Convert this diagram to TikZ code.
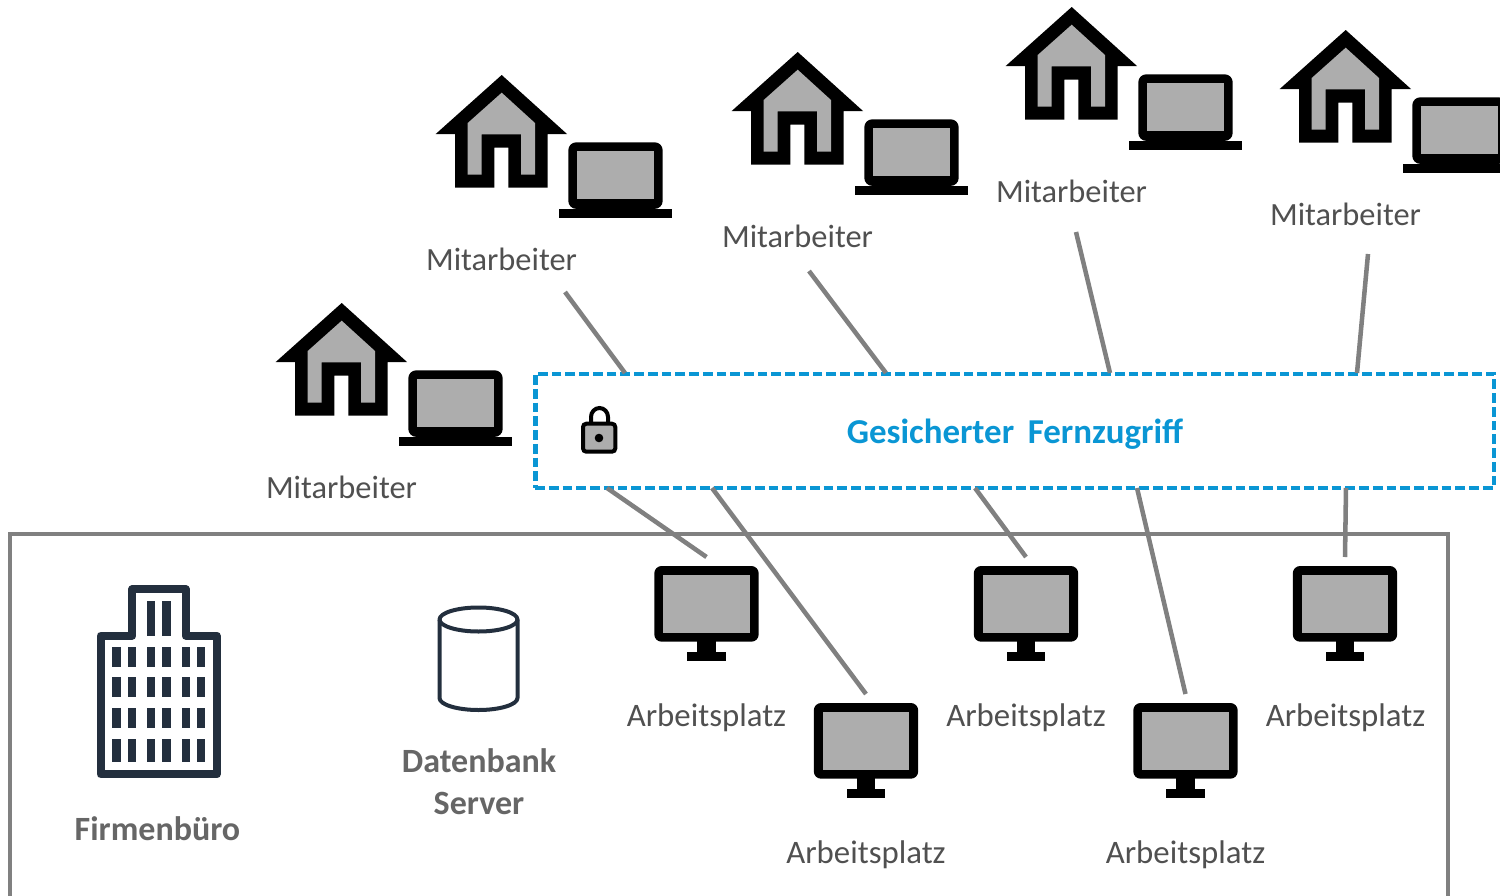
\documentclass[tikz,border=0pt]{standalone}
\usepackage{fontspec}
\setmainfont{Carlito}
\definecolor{fillgray}{HTML}{ADADAD}
\definecolor{linegray}{HTML}{808080}
\definecolor{secblue}{HTML}{0A96D4}
\definecolor{textgray}{HTML}{505050}
\definecolor{boldgray}{HTML}{666666}
\definecolor{navy}{HTML}{232F3E}
\tikzset{
  link/.style={draw=linegray,line width=3.4pt},
  lbl/.style={font=\fontsize{24.3}{28}\selectfont,text=textgray,inner sep=0pt,anchor=center},
  aplbl/.style={font=\fontsize{24.6}{28}\selectfont,text=textgray,inner sep=0pt,anchor=center},
  blbl/.style={font=\fontsize{25.5}{31.5}\selectfont\bfseries,text=boldgray,inner sep=0pt,anchor=center,align=center},
  house/.pic={
    \fill[black] (0,0) -- (65.3,59) -- (46,59) -- (46,112.7) -- (6.6,112.7) -- (6.6,72.7) -- (-7.4,72.7) -- (-7.4,112.7) -- (-46.7,112.7) -- (-46.7,59) -- (-66,59) -- cycle;
    \fill[fillgray] (0,17.7) -- (33.3,48) -- (33.3,99.7) -- (19.3,99.7) -- (19.3,59.3) -- (-20,59.3) -- (-20,99.7) -- (-34,99.7) -- (-34,48) -- cycle;
  },
  laptop/.pic={
    \fill[black,rounded corners=6pt] (-47.2,-33.2) rectangle (47.2,33.4);
    \fill[fillgray] (-38.5,-24.2) rectangle (38.5,23.8);
    \fill[black] (-56.8,33.2) rectangle (56.8,42.2);
  },
  monitor/.pic={
    \coordinate (-top) at (0,-9);
    \fill[black,rounded corners=5.5pt] (-52.2,0) rectangle (52.2,75.7);
    \fill[fillgray] (-43.2,9) rectangle (43.2,66.7);
    \fill[black] (-9.2,75) rectangle (9.2,86);
    \fill[black] (-19.2,85.7) rectangle (19.2,95);
  }
}
\begin{document}
\begin{tikzpicture}[x=0.75pt,y=-0.75pt]
\useasboundingbox (0,0) rectangle (1500,896);
% office frame
\draw[draw=linegray,line width=3.4pt] (10,896) -- (10,534) -- (1448,534) -- (1448,896);
% secured area
\node[draw=secblue,line width=3.5pt,dash pattern=on 7.3pt off 3pt,minimum width=719pt,minimum height=85.5pt,inner sep=0pt] (box) at (1014.5,431) {};
\node[font=\fontsize{26.2}{28}\selectfont\bfseries,text=secblue,inner sep=0pt] (boxlabel) at (1015,434.5) {Gesicherter\, Fernzugriff};
% lock
\draw[black,line width=3pt] (591,424) -- (591,417) arc[start angle=180,end angle=360,x radius=8.5,y radius=9] -- (608,424);
\draw[black,fill=fillgray,line width=3pt,rounded corners=2.5pt] (583,423.7) rectangle (615.3,451.7);
\fill[black] (599,438) circle[radius=4.3];
% homes
\foreach \n/\dx/\dy in {0/0/0,1/160/-228,2/456/-251,3/730/-296,4/1004/-273}{
  \pic at ({341.7+\dx},{303+\dy}) {house};
  \pic at ({455.5+\dx},{403.5+\dy}) {laptop};
}
\node[lbl] (mit0) at (341.5,487) {Mitarbeiter};
\node[lbl] (mit1) at (501.5,259) {Mitarbeiter};
\node[lbl] (mit2) at (797.5,236) {Mitarbeiter};
\node[lbl] (mit3) at (1071.5,191) {Mitarbeiter};
\node[lbl] (mit4) at (1345.5,214) {Mitarbeiter};
% workstations
\pic (m1) at (706.5,566) {monitor};
\pic (m2) at (866,703) {monitor};
\pic (m3) at (1026,566) {monitor};
\pic (m4) at (1185.5,703) {monitor};
\pic (m5) at (1345,566) {monitor};
\node[aplbl] (ap1) at (706.5,718) {Arbeitsplatz};
\node[aplbl] (ap2) at (866,855) {Arbeitsplatz};
\node[aplbl] (ap3) at (1026,718) {Arbeitsplatz};
\node[aplbl] (ap4) at (1185.5,855) {Arbeitsplatz};
\node[aplbl] (ap5) at (1345.5,718) {Arbeitsplatz};
% building
\draw[navy,line width=6pt,line join=round] (100.7,635.7) -- (132.3,635.7) -- (132.3,589.3) -- (185.7,589.3) -- (185.7,635.7) -- (216.7,635.7) -- (216.7,774.3) -- (100.7,774.3) -- cycle;
\foreach \x in {147,162.3}{\fill[navy] (\x,600.7) rectangle ++(8.3,35);}
\foreach \x in {112.3,127.7,147,162.3,181.7,197}{
  \fill[navy] (\x,646.7) rectangle ++(8.3,20);
  \fill[navy] (\x,677.3) rectangle ++(8.3,20);
  \fill[navy] (\x,708.3) rectangle ++(8.3,20);
  \fill[navy] (\x,739) rectangle ++(8.3,23.3);
}
\node[blbl] (office) at (157.5,829) {Firmenbüro};
% database
\draw[navy,line width=3pt,line join=round] (439.5,619.5) -- (439.5,698) arc[start angle=180,end angle=0,x radius=39,y radius=12] -- (517.5,619.5) arc[start angle=0,end angle=-180,x radius=39,y radius=12] -- cycle;
\draw[navy,line width=3pt] (439.5,619.5) arc[start angle=180,end angle=0,x radius=39,y radius=12];
\node[blbl] (db) at (479,782) {Datenbank\\Server};
% connectors
\coordinate (s1) at (565,292); \coordinate (b1) at (625,373);
\coordinate (s2) at (809,271); \coordinate (b2) at (886,373);
\coordinate (s3) at (1076,232); \coordinate (b3) at (1110,373);
\coordinate (s4) at (1368,254); \coordinate (b4) at (1357,373);
\coordinate (b5) at (607,488); \coordinate (b6) at (712,488);
\coordinate (b7) at (975,488); \coordinate (b8) at (1137,488);
\coordinate (b9) at (1346,488);
\draw[link] (s1) -- (b1);
\draw[link] (s2) -- (b2);
\draw[link] (s3) -- (b3);
\draw[link] (s4) -- (b4);
\draw[link] (b5) -- (m1-top);
\draw[link] (b6) -- (m2-top);
\draw[link] (b7) -- (m3-top);
\draw[link] (b8) -- (m4-top);
\draw[link] (b9) -- (m5-top);
\end{tikzpicture}
\end{document}
